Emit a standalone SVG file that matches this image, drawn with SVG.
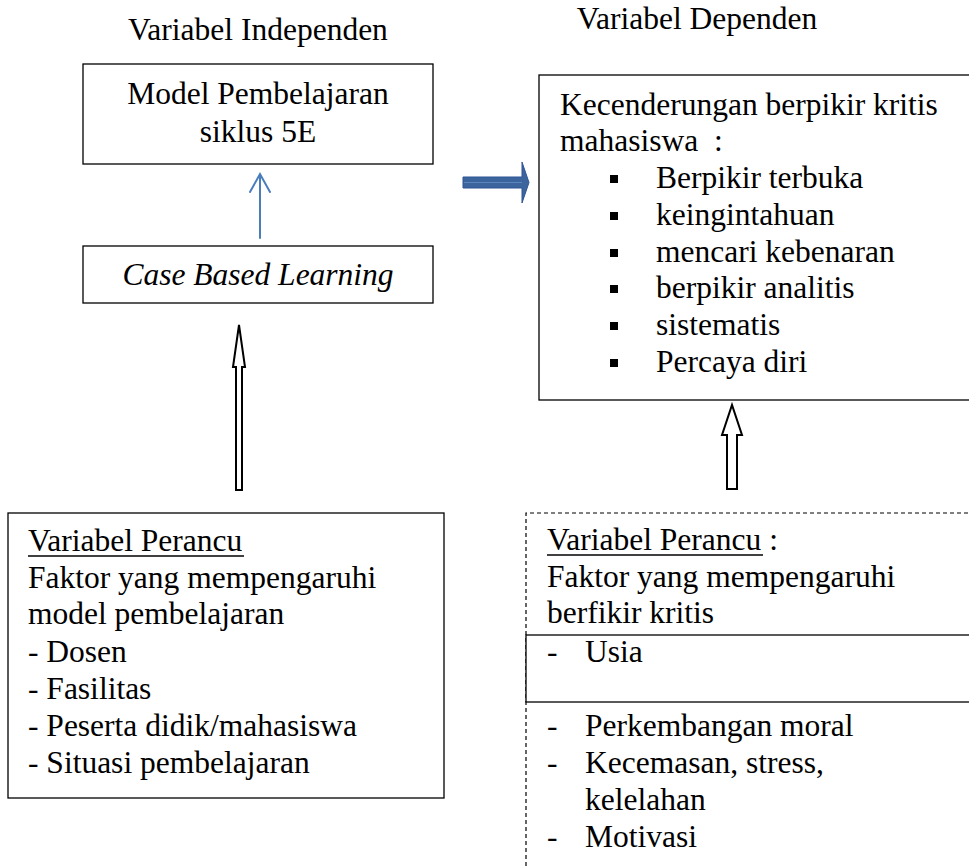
<svg xmlns="http://www.w3.org/2000/svg" width="969" height="866" viewBox="0 0 969 866">
<style>
text{font-family:"Liberation Serif","Times New Roman",serif;font-size:31.5px;fill:#000}
.c{text-anchor:middle}
.box{fill:#fff;stroke:#000;stroke-width:1.3}
.dash{fill:none;stroke:#000;stroke-width:1.2;stroke-dasharray:4 3}
.hollow{fill:#fff;stroke:#000;stroke-width:2;stroke-linejoin:miter}
</style>
<rect width="969" height="866" fill="#fff"/>
<g id="titles">
<text x="258" y="40" class="c">Variabel Independen</text>
<text x="697" y="29" class="c">Variabel Dependen</text>
</g>
<g id="model">
<rect class="box" x="83" y="64" width="350" height="100"/>
<text x="258" y="104" class="c">Model Pembelajaran</text>
<text x="258" y="142" class="c">siklus 5E</text>
</g>
<g id="cbl">
<rect class="box" x="83" y="246" width="350" height="57"/>
<text x="258" y="285" class="c" font-style="italic">Case Based Learning</text>
</g>
<g id="dependen">
<rect class="box" x="539" y="75" width="440" height="325"/>
<text x="560" y="115">Kecenderungan berpikir kritis</text>
<text x="560" y="151" xml:space="preserve">mahasiswa  :</text>
<g fill="#000">
<rect x="610" y="175" width="8" height="8"/>
<rect x="610" y="212" width="8" height="8"/>
<rect x="610" y="249" width="8" height="8"/>
<rect x="610" y="285" width="8" height="8"/>
<rect x="610" y="322" width="8" height="8"/>
<rect x="610" y="359" width="8" height="8"/>
</g>
<text x="656" y="188">Berpikir terbuka</text>
<text x="656" y="225">keingintahuan</text>
<text x="656" y="262">mencari kebenaran</text>
<text x="656" y="298">berpikir analitis</text>
<text x="656" y="335">sistematis</text>
<text x="656" y="372">Percaya diri</text>
</g>
<g id="perancu-left">
<rect class="box" x="8" y="513" width="436" height="285"/>
<text x="28" y="551">Variabel Perancu</text>
<line x1="28" y1="556" x2="244" y2="556" stroke="#000" stroke-width="1.5"/>
<text x="28" y="588">Faktor yang mempengaruhi</text>
<text x="28" y="624">model pembelajaran</text>
<text x="28" y="662">- Dosen</text>
<text x="28" y="699">- Fasilitas</text>
<text x="28" y="736">- Peserta didik/mahasiswa</text>
<text x="28" y="773">- Situasi pembelajaran</text>
</g>
<g id="perancu-right">
<path class="dash" d="M526 866 V513 H975"/>
<text x="547" y="550">Variabel Perancu :</text>
<line x1="547" y1="555" x2="763" y2="555" stroke="#000" stroke-width="1.5"/>
<text x="547" y="587">Faktor yang mempengaruhi</text>
<text x="547" y="623">berfikir kritis</text>
<rect class="box" x="526" y="635" width="450" height="67"/>
<text x="547" y="662">-</text><text x="585" y="662">Usia</text>
<text x="547" y="736">-</text><text x="585" y="736">Perkembangan moral</text>
<text x="547" y="773">-</text><text x="585" y="773">Kecemasan, stress,</text>
<text x="585" y="810">kelelahan</text>
<text x="547" y="847">-</text><text x="585" y="847">Motivasi</text>
</g>
<g id="connectors">
<g stroke="#4a7ebb" stroke-width="2" fill="none" stroke-linecap="round">
<line x1="260" y1="238" x2="260" y2="175"/>
<polyline points="250,192 260,174 270,192"/>
</g>
<path d="M463 177 H522 V162 L529 182.5 L522 203 V188 H463 Z" fill="#3b659c" stroke="#2f5597" stroke-width="1"/>
<line x1="464" y1="182.5" x2="522" y2="182.5" stroke="#5b86bd" stroke-width="1"/>
<path class="hollow" d="M236 490 V367 H233 L239 325 L245 367 H242 V490 Z"/>
<path class="hollow" d="M727 489 V435 H722 L732 405 L742 435 H737 V489 Z"/>
</g>
</svg>
